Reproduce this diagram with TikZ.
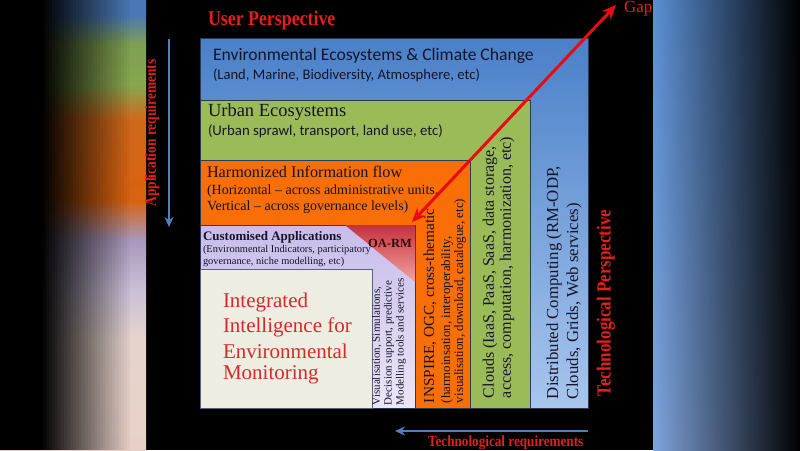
\documentclass[tikz,border=0pt]{standalone}
\usepackage{fontspec}
\setmainfont{Carlito}
\newfontfamily\cmb{Liberation Serif}
\newfontfamily\cmbc[FakeStretch=0.85]{Liberation Serif}
\usetikzlibrary{arrows.meta}
\newcommand\fsz[1]{\fontsize{#1}{#1}\selectfont}
\definecolor{boxline}{HTML}{2B3B55}
\definecolor{ink}{HTML}{15152A}
\definecolor{titlered}{HTML}{E2201C}
\definecolor{intred}{HTML}{D42A2A}
\definecolor{gapred}{HTML}{EC0A12}
\definecolor{arrowblue}{HTML}{4F81BD}
\definecolor{bluetop}{HTML}{4A80C8}
\definecolor{bluebot}{HTML}{A8C6EE}
\definecolor{greenf}{HTML}{9BBB59}
\definecolor{orangef}{HTML}{F96E06}
\definecolor{purptop}{HTML}{C8BCEA}
\definecolor{purpbot}{HTML}{EBE6F6}
\definecolor{creamf}{HTML}{EEEDE2}
\definecolor{oatop}{HTML}{C4313C}
\definecolor{oabot}{HTML}{F5A2A2}
% blurred side panels
\definecolor{lpa}{HTML}{4A78B4}
\definecolor{lpb}{HTML}{7FA050}
\definecolor{lpc}{HTML}{88A650}
\definecolor{lpd}{HTML}{D0681A}
\definecolor{lpe}{HTML}{D9620F}
\definecolor{lpf}{HTML}{A898BC}
\definecolor{lpg}{HTML}{CBBFD8}
\definecolor{lph}{HTML}{E6D4CC}
\definecolor{lpi}{HTML}{E8D0C8}
\definecolor{rpt}{HTML}{5A8FD4}
\definecolor{rpb}{HTML}{80A4DC}
\definecolor{rpred}{HTML}{3C1010}
\pgfdeclareverticalshading{leftpanel}{100bp}{color(0bp)=(lpi); color(25bp)=(lpi); color(37.22bp)=(lph); color(42.78bp)=(lpg); color(48.33bp)=(lpf); color(52.78bp)=(lpe); color(61.67bp)=(lpd); color(65.56bp)=(lpc); color(70bp)=(lpb); color(73.33bp)=(lpa); color(75bp)=(lpa); color(100bp)=(lpa)}
\begin{document}
\begin{tikzpicture}[x=1pt,y=-1pt,
  every node/.style={inner sep=0pt,outer sep=0pt},
  box/.style={draw=boxline,line width=0.8pt},
  txt/.style={anchor=west,text=ink,align=left},
  rtxt/.style={rotate=90,anchor=west,text=ink},
  lbl/.style={text=titlered,font=\cmbc\bfseries},
  bluearrow/.style={draw=arrowblue,line width=2pt,-{Stealth[length=10pt,width=9pt]}},
  gaparrow/.style={draw=gapred,line width=3pt,{Stealth[length=14pt,width=12pt]}-{Stealth[length=14pt,width=12pt]}}]
\useasboundingbox (0,0) rectangle (800,450);
\fill[black] (0,0) rectangle (800,450);
% left blurred panel
\shade[shading=leftpanel] (0,0) rectangle (146,450);
\fill[black] (0,0) rectangle (40,450);
\foreach \i in {0,...,29} {
  \pgfmathsetmacro\op{1-\i/30}
  \fill[black,fill opacity=\op] (40+\i*3,0) rectangle (43+\i*3,450);
}
% right blurred panel
\foreach \y in {0,5,...,445} {
  \pgfmathtruncatemacro\bb{\y/4.5}
  \pgfmathtruncatemacro\rr{min(100,max(0,\y-140))}
  \shade[left color=rpb!\bb!rpt,middle color=rpred!\rr!black,right color=black] (653,\y) rectangle (800,\y+6);
}
% nested boxes
\draw[box,top color=bluetop,bottom color=bluebot] (200,38) rectangle (588,408);
\draw[box,fill=greenf] (200,100) rectangle (530,408);
\draw[box,fill=orangef] (200,160) rectangle (470,408);
\draw[box,top color=purptop,bottom color=purpbot] (200,225) rectangle (415,408);
\draw[draw=boxline!70!purptop,line width=0.8pt,fill=creamf] (200,269) rectangle (372,408);
\shade[top color=oatop,bottom color=oabot] (345,225) -- (415,225) -- (415,282) -- cycle;
% texts in rows
\node[txt,font=\fsz{17.6}] (env1) at (213,56) {Environmental Ecosystems \& Climate Change};
\node[txt,font=\fsz{14.6}] (env2) at (213,75) {(Land, Marine, Biodiversity, Atmosphere, etc)};
\node[txt,font=\cmb\fsz{18.5}] (urb1) at (208,112) {Urban Ecosystems};
\node[txt,font=\fsz{14.8}] (urb2) at (208,131) {(Urban sprawl, transport, land use, etc)};
\node[txt,font=\cmb\fsz{16.2}] (har1) at (207,172) {Harmonized Information flow};
\node[txt,font=\cmb\fsz{14}] (har2) at (207,191) {(Horizontal – across administrative units,};
\node[txt,font=\cmb\fsz{14}] (har3) at (207,207) {Vertical – across governance levels)};
\node[txt,font=\cmb\bfseries\fsz{13}] (cus1) at (203,237) {Customised Applications};
\node[txt,font=\cmb\fsz{10.4}] (cus2) at (203,250) {(Environmental Indicators, participatory};
\node[txt,font=\cmb\fsz{10.4}] (cus3) at (203,262) {governance, niche modelling, etc)};
\node[font=\cmb\bfseries\fsz{12.5},text={rgb,255:red,50;green,10;blue,10}] (oarm) at (390,243) {OA-RM};
\node[txt,font=\cmb\fsz{21},text=intred] (int1) at (223,302) {Integrated};
\node[txt,font=\cmb\fsz{21},text=intred] (int2) at (223,327) {Intelligence for};
\node[txt,font=\cmb\fsz{21},text=intred] (int3) at (223,351) {Environmental};
\node[txt,font=\cmb\fsz{21},text=intred] (int4) at (223,375) {Monitoring};
% rotated column texts
\node[rtxt,font=\cmb\fsz{11}] (vis1) at (377,405) {Visualisation, Simulations,};
\node[rtxt,font=\cmb\fsz{11}] (vis2) at (389,405) {Decision support, predictive};
\node[rtxt,font=\cmb\fsz{11}] (vis3) at (401,405) {Modelling tools and services};
\node[rtxt,font=\cmb\fsz{15.3}] (ins1) at (430,403) {INSPIRE, OGC, cross-thematic};
\node[rtxt,font=\cmb\fsz{12.9}] (ins2) at (447,403) {(harmoinsation, interoperability,};
\node[rtxt,font=\cmb\fsz{12.9}] (ins3) at (460,403) {visualisation, download, catalogue, etc)};
\node[rtxt,font=\cmb\fsz{16}] (clo1) at (490,398) {Clouds (IaaS, PaaS, SaaS, data storage,};
\node[rtxt,font=\cmb\fsz{16}] (clo2) at (507,398) {access, computation, harmonization, etc)};
\node[rtxt,font=\cmb\fsz{16.8}] (dis1) at (554,399) {Distributed Computing (RM-ODP,};
\node[rtxt,font=\cmb\fsz{16.8}] (dis2) at (574,399) {Clouds, Grids, Web services)};
% perspective labels
\node[lbl,anchor=west,font=\cmbc\bfseries\fsz{21}] (userp) at (208,20) {User Perspective};
\node[lbl,rotate=90,font=\cmbc\bfseries\fsz{15.8}] (appreq) at (152,133) {Application requirements};
\node[lbl,rotate=90,font=\cmbc\bfseries\fsz{20}] (techp) at (606,303) {Technological Perspective};
\node[lbl,anchor=west,font=\cmbc\bfseries\fsz{15.5}] (techreq) at (428,443) {Technological requirements};
\node[anchor=west,font=\cmb\fsz{17},text=titlered] (gap) at (624,9) {Gap};
% arrows
\coordinate (appTop) at (169,39);
\coordinate (appBot) at (169,227);
\coordinate (techR) at (588,431);
\coordinate (techL) at (395,431);
\coordinate (gapLow) at (412,222);
\coordinate (gapHigh) at (616,5);
\draw[bluearrow] (appTop) -- (appBot);
\draw[bluearrow] (techR) -- (techL);
\draw[gaparrow] (gapHigh) -- (gapLow);
\end{tikzpicture}
\end{document}
